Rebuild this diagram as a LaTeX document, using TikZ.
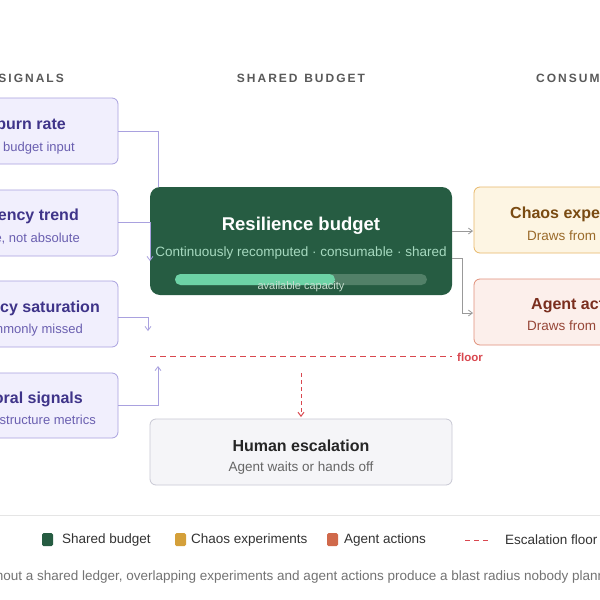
\documentclass[tikz,border=0pt]{standalone}
\usepackage{fontspec}
\setmainfont{Liberation Sans}
\usetikzlibrary{arrows.meta}
\definecolor{sig}{HTML}{3F3489}
\definecolor{sigsub}{HTML}{6A5FB0}
\definecolor{sigfill}{HTML}{F1EFFD}
\definecolor{sigdraw}{HTML}{A9A1DF}
\definecolor{budget}{HTML}{265C42}
\definecolor{chfill}{HTML}{FDF5E3}
\definecolor{chdraw}{HTML}{E8B86A}
\definecolor{agfill}{HTML}{FCEFEB}
\definecolor{agdraw}{HTML}{E0907A}
\definecolor{floorc}{HTML}{D9474F}
\definecolor{bsub}{HTML}{A6D9BF}
\definecolor{bartrack}{HTML}{528068}
\definecolor{barfill}{HTML}{6DD3A6}
\definecolor{bcap}{HTML}{C8DED0}
\definecolor{cht}{HTML}{7A4B12}
\definecolor{chs}{HTML}{9A6A2A}
\definecolor{agt}{HTML}{7A2E1E}
\definecolor{ags}{HTML}{964637}
\definecolor{hfill}{HTML}{F5F5F8}
\definecolor{hdraw}{HTML}{C8C8D4}
\definecolor{legch}{HTML}{D4A03A}
\definecolor{legag}{HTML}{D0694B}
\tikzset{
 sigbox/.style={draw=sigdraw,fill=sigfill,rounded corners=6pt,line width=0.8pt},
 sigt/.style={font=\bfseries\fontsize{16}{18}\selectfont,text=sig,anchor=east,inner sep=0},
 sigs/.style={font=\fontsize{13}{15}\selectfont,text=sigsub,anchor=east,inner sep=0},
 hdr/.style={font=\bfseries\fontsize{12}{14}\selectfont,text=black!65,inner sep=0},
 conn/.style={draw=sigdraw,line width=0.8pt,-{Straight Barb[length=4pt,width=6pt]}},
 cconn/.style={draw=black!40,line width=0.8pt,-{Straight Barb[length=4pt,width=6pt]}},
 leg/.style={font=\fontsize{13.5}{15}\selectfont,text=black!80,anchor=west,inner sep=0},
}
\begin{document}
\begin{tikzpicture}[x=1pt,y=-1pt]
\useasboundingbox (0,0) rectangle (600,600);
\clip (0,0) rectangle (600,600);
\fill[white] (0,0) rectangle (600,600);
% headers
\node[hdr,anchor=east] (h1) at (64,78) {I\,N\,P\,U\,T\ \ S\,I\,G\,N\,A\,L\,S};
\node[hdr] (h2) at (301,78) {S\,H\,A\,R\,E\,D\ \ B\,U\,D\,G\,E\,T};
\node[hdr,anchor=west] (h3) at (536,78) {C\,O\,N\,S\,U\,M\,E\,R\,S};
% signal boxes
\draw[sigbox] (-40,98) rectangle (118,164);
\draw[sigbox] (-40,190) rectangle (118,256);
\draw[sigbox] (-40,281) rectangle (118,347);
\draw[sigbox] (-40,373) rectangle (118,438);
\coordinate (s1) at (118,131);\coordinate (s2) at (118,222);
\coordinate (s3) at (118,317);\coordinate (s4) at (118,405);
\node[sigt] (t1) at (66,125) {Error budget burn rate};
\node[sigs] (u1) at (75,148) {Primary budget input};
\node[sigt] (t2) at (79,216) {Latency trend};
\node[sigs] (u2) at (80,239) {Relative, not absolute};
\node[sigt] (t3) at (100,308) {Dependency saturation};
\node[sigs] (u3) at (83,330) {Commonly missed};
\node[sigt] (t4) at (83,399) {Behavioral signals};
\node[sigs] (u4) at (96,421) {Beyond infrastructure metrics};
% budget
\draw[fill=budget,draw=none,rounded corners=10pt] (150,187) rectangle (452,295);
\node[font=\bfseries\fontsize{18.5}{21}\selectfont,text=white] (bt) at (301,226) {Resilience budget};
\node[font=\fontsize{13.5}{15}\selectfont,text=bsub] (bs) at (301,253) {Continuously recomputed · consumable · shared};
\fill[bartrack,rounded corners=5.5pt] (175,274) rectangle (427,285);
\fill[barfill,rounded corners=5.5pt] (175,274) rectangle (335,285);
\node[font=\fontsize{11}{12}\selectfont,text=bcap] (bc) at (301,287) {available capacity};
\coordinate (bl1) at (158,187);
% signal connectors
\draw[draw=sigdraw,line width=0.8pt] (s1) -| (bl1);
\draw[conn] (s2) -| (150,261);
\draw[conn] (s3) -| (148,331);
\draw[conn] (s4) -| (158,366);
% consumers
\draw[fill=chfill,draw=chdraw,line width=0.8pt,rounded corners=6pt] (474,187) rectangle (660,253);
\node[font=\bfseries\fontsize{16}{18}\selectfont,text=cht,anchor=west,inner sep=0] (ct) at (510,214) {Chaos experiments};
\node[font=\fontsize{13.5}{15}\selectfont,text=chs,anchor=west,inner sep=0] (cs) at (527,237) {Draws from budget};
\draw[fill=agfill,draw=agdraw,line width=0.8pt,rounded corners=6pt] (474,279) rectangle (660,345);
\node[font=\bfseries\fontsize{16}{18}\selectfont,text=agt,anchor=west,inner sep=0] (at) at (531,305) {Agent actions};
\node[font=\fontsize{13.5}{15}\selectfont,text=ags,anchor=west,inner sep=0] (as) at (527,327) {Draws from budget};
\draw[cconn] (452,231) -- (473,231);
\draw[cconn] (452,258) -| (462,313) -- (473,313);
% floor
\draw[floorc,dash pattern=on 6pt off 4pt,line width=1pt] (150,356) -- (452,356);
\node[font=\bfseries\fontsize{11.5}{13}\selectfont,text=floorc] (fl) at (470,357) {floor};
\draw[floorc,dash pattern=on 4pt off 3pt,line width=1pt,-{Straight Barb[length=4pt,width=6pt]}] (301,373) -- (301,417);
% human
\draw[fill=hfill,draw=hdraw,line width=0.8pt,rounded corners=6pt] (150,419) rectangle (452,485);
\node[font=\bfseries\fontsize{16}{18}\selectfont,text=black!85] (ht) at (301,446) {Human escalation};
\node[font=\fontsize{13.5}{15}\selectfont,text=black!60] (hs) at (301,468) {Agent waits or hands off};
% legend
\draw[black!10,line width=0.8pt] (0,515) -- (600,515);
\fill[budget,rounded corners=1.5pt] (42,533) rectangle (53,546);
\node[leg] (l1) at (62,540) {Shared budget};
\fill[legch,rounded corners=1.5pt] (175,533) rectangle (186,546);
\node[leg] (l2) at (191,540) {Chaos experiments};
\fill[legag,rounded corners=1.5pt] (327,533) rectangle (338,546);
\node[leg] (l3) at (344,540) {Agent actions};
\draw[floorc,dash pattern=on 5pt off 4pt,line width=1pt] (465,540) -- (490,540);
\node[leg] (l4) at (505,540) {Escalation floor};
\node[font=\fontsize{13.5}{15}\selectfont,text=black!55,anchor=east,inner sep=0] (cap) at (643,577) {Without a shared ledger, overlapping experiments and agent actions produce a blast radius nobody planned for.};
\end{tikzpicture}
\end{document}
